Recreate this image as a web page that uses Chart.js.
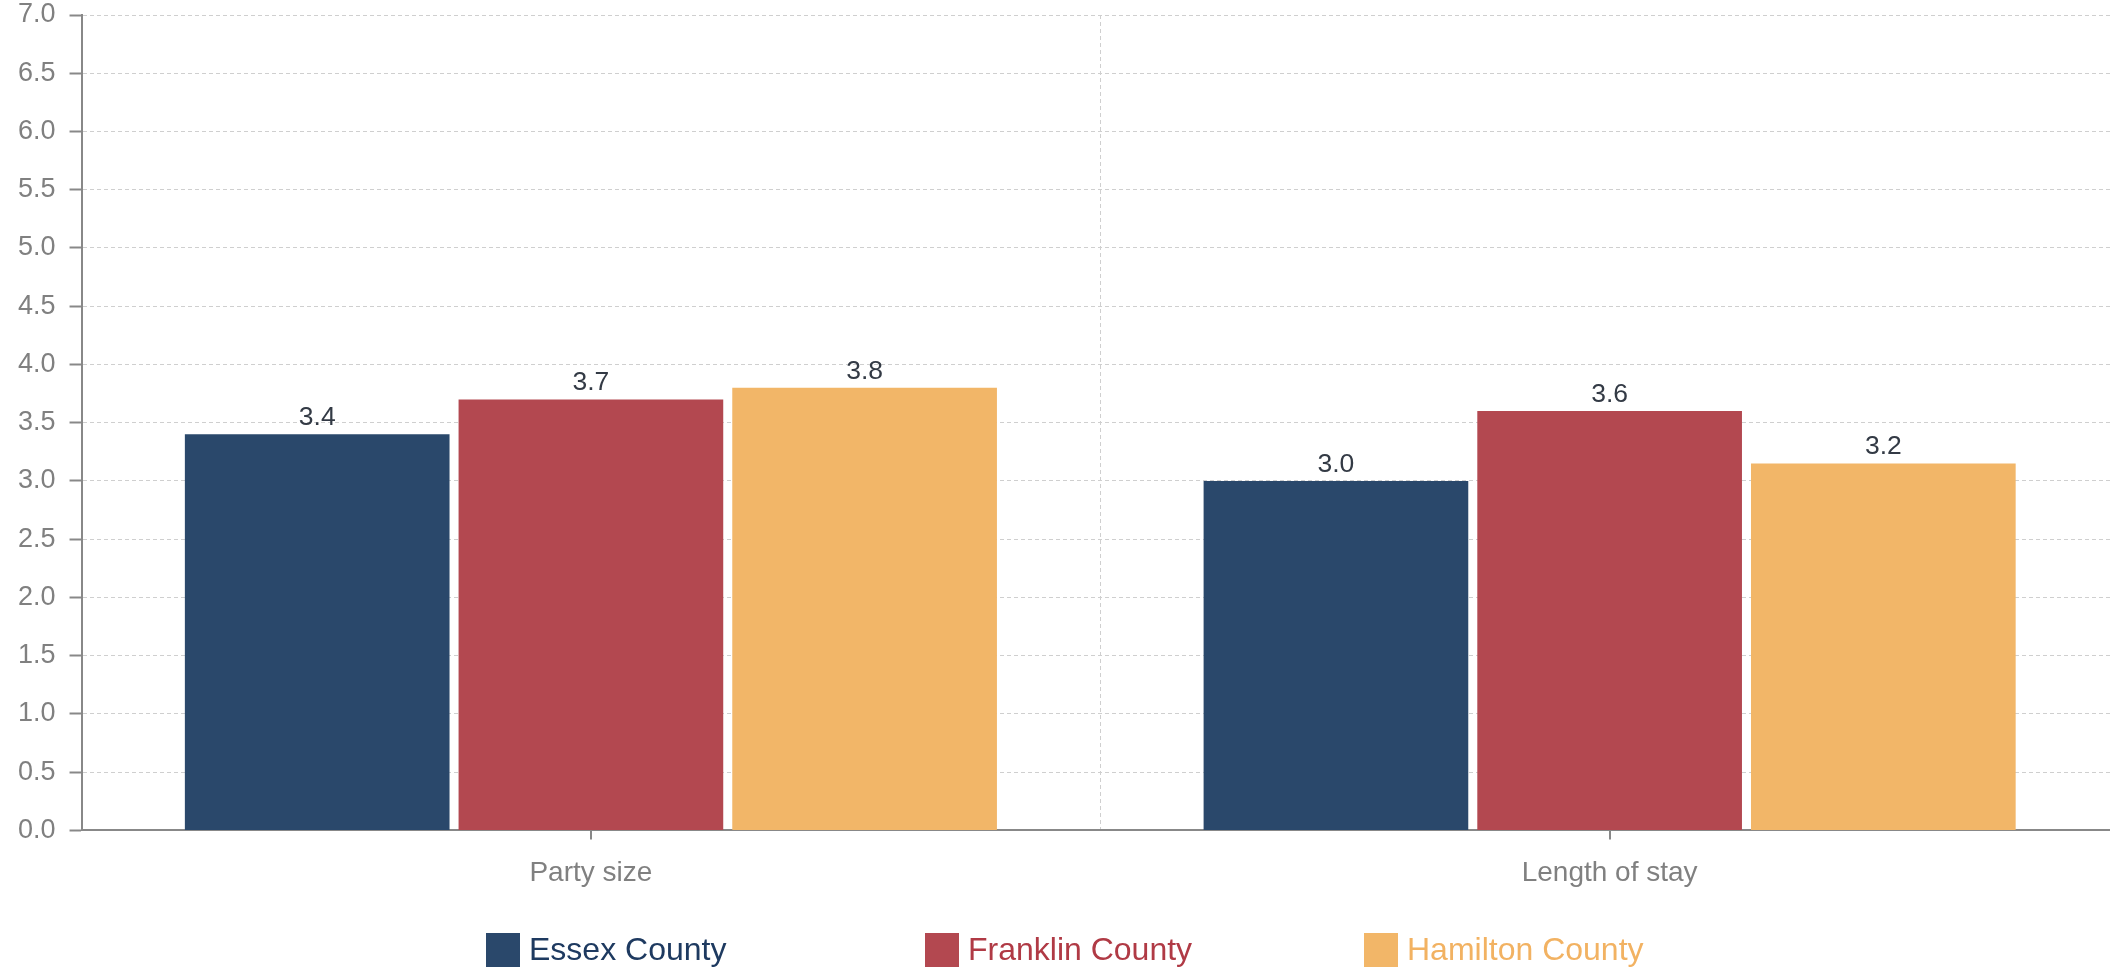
<!DOCTYPE html>
<html>
<head>
<meta charset="utf-8">
<script src="https://cdn.jsdelivr.net/npm/chart.js@4.4.1/dist/chart.umd.min.js"></script>
<style>
  html, body { margin: 0; padding: 0; overflow: hidden; background: #fff; }
  #wrap { position: absolute; left: 0; top: 0; width: 2120px; height: 971px; }
  #legend { position: absolute; left: 486px; top: 932px; display: flex; font-family: "Liberation Sans", Arial, sans-serif; font-size: 32px; }
  .item { width: 439px; display: flex; align-items: center; height: 35px; }
  .box { width: 34px; height: 34px; margin-right: 9px; }
</style>
</head>
<body>
<div id="wrap"><canvas id="chart" width="2120" height="971"></canvas></div>
<div id="legend"></div>
<script>
const categories = ['Party size', 'Length of stay'];
const seriesNames = ['Essex County', 'Franklin County', 'Hamilton County'];
const essex = [3.4, 3.0];
const franklin = [3.7, 3.6];
const hamilton = [3.8, 3.15];
const barColors = ['#2a486b', '#b34850', '#f2b668'];
const legendTextColors = ['#1e3a60', '#b03a45', '#f2b262'];

const fontFamily = '"Liberation Sans", Arial, sans-serif';

// value labels above each bar
const valueLabels = {
  id: 'valueLabels',
  afterDatasetsDraw(chart) {
    const ctx = chart.ctx;
    ctx.save();
    ctx.font = '26.5px ' + fontFamily;
    ctx.fillStyle = '#333a45';
    ctx.textAlign = 'center';
    ctx.textBaseline = 'alphabetic';
    chart.data.datasets.forEach((ds, di) => {
      chart.getDatasetMeta(di).data.forEach((bar, i) => {
        ctx.fillText((ds.data[i] + 1e-9).toFixed(1), bar.x, bar.y - 9);
      });
    });
    ctx.restore();
  }
};

// small tick marks under each category centre
const categoryTicks = {
  id: 'categoryTicks',
  afterDraw(chart) {
    const ctx = chart.ctx;
    const xs = chart.scales.x;
    const bottom = chart.chartArea.bottom;
    ctx.save();
    ctx.strokeStyle = '#888';
    ctx.lineWidth = 2;
    categories.forEach((c, i) => {
      const px = Math.round(xs.getPixelForValue(i));
      ctx.beginPath();
      ctx.moveTo(px, bottom);
      ctx.lineTo(px, bottom + 9);
      ctx.stroke();
    });
    ctx.restore();
  }
};

const chart = new Chart(document.getElementById('chart').getContext('2d'), {
  type: 'bar',
  data: {
    labels: categories,
    datasets: [
      { label: seriesNames[0], data: essex, backgroundColor: barColors[0] },
      { label: seriesNames[1], data: franklin, backgroundColor: barColors[1] },
      { label: seriesNames[2], data: hamilton, backgroundColor: barColors[2] }
    ]
  },
  options: {
    responsive: false,
    animation: false,
    categoryPercentage: 0.806,
    barPercentage: 0.967,
    layout: { padding: { left: 4, right: 1, top: 0, bottom: 55 } },
    plugins: {
      legend: { display: false },
      tooltip: { enabled: false }
    },
    scales: {
      x: {
        grid: {
          offset: true,
          drawTicks: false,
          color: (c) => c.index === 1 ? '#cfcfcf' : 'rgba(0,0,0,0)',
          lineWidth: 1
        },
        border: { display: true, color: '#888', width: 2, dash: [4, 3] },
        ticks: { color: '#808080', padding: 26, font: { family: fontFamily, size: 28 } }
      },
      y: {
        min: 0,
        max: 7,
        grid: { color: '#cfcfcf', lineWidth: 1, tickColor: '#888', tickWidth: 2, tickLength: 12 },
        border: { display: true, color: '#888', width: 2, dash: [4, 3] },
        ticks: {
          stepSize: 0.5,
          padding: 14,
          color: '#808080',
          font: { family: fontFamily, size: 27 },
          callback: (v) => v.toFixed(1)
        },
        afterFit: (s) => { s.paddingTop = 15; s.paddingBottom = 0; }
      }
    }
  },
  plugins: [valueLabels, categoryTicks]
});

// legend built from the chart's datasets
const legend = document.getElementById('legend');
chart.data.datasets.forEach((ds, i) => {
  const item = document.createElement('div');
  item.className = 'item';
  const box = document.createElement('span');
  box.className = 'box';
  box.style.background = ds.backgroundColor;
  const txt = document.createElement('span');
  txt.textContent = ds.label;
  txt.style.color = legendTextColors[i];
  item.appendChild(box);
  item.appendChild(txt);
  legend.appendChild(item);
});
</script>
</body>
</html>
